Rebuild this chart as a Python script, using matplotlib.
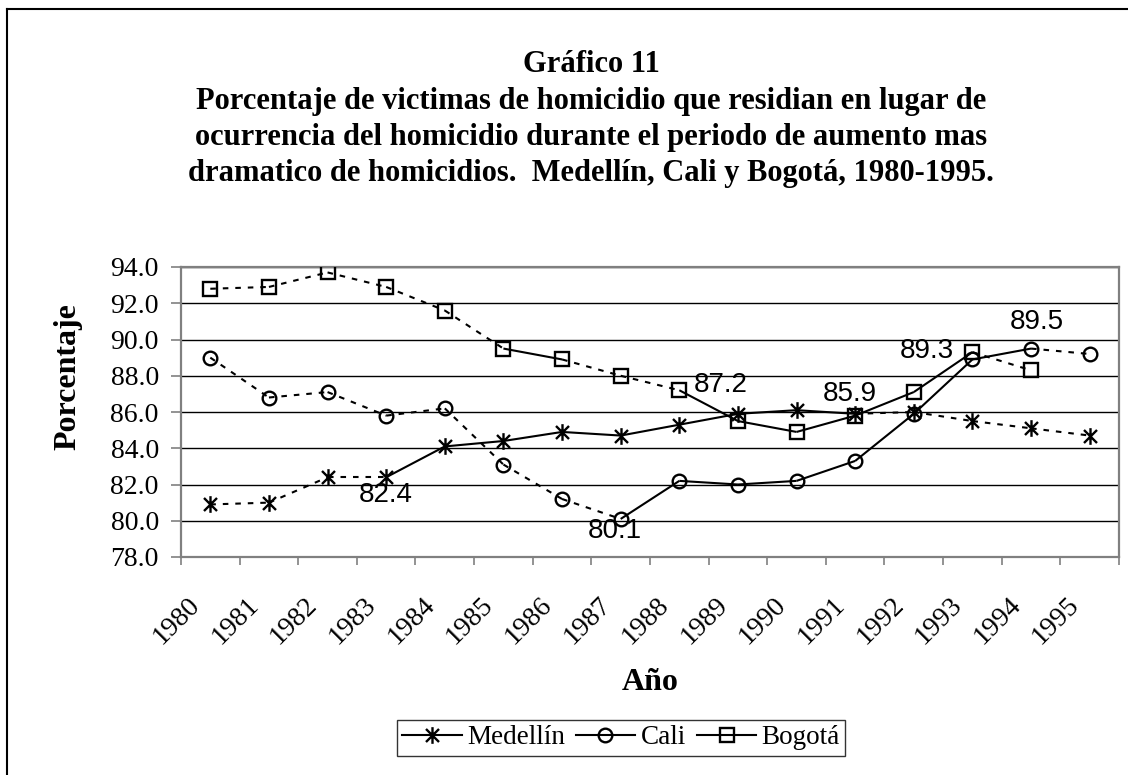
import matplotlib
matplotlib.use('Agg')
import matplotlib.pyplot as plt
import numpy as np
from matplotlib.lines import Line2D
from matplotlib.path import Path
from matplotlib.transforms import ScaledTranslation
from matplotlib.ticker import FormatStrFormatter

# ---------------- data ----------------
years = ['1980', '1981', '1982', '1983', '1984', '1985', '1986', '1987',
         '1988', '1989', '1990', '1991', '1992', '1993', '1994', '1995']
medellin = [80.9, 81.0, 82.4, 82.4, 84.1, 84.4, 84.9, 84.7,
            85.3, 85.9, 86.1, 85.9, 86.0, 85.5, 85.1, 84.7]
cali = [89.0, 86.8, 87.1, 85.8, 86.2, 83.1, 81.2, 80.1,
        82.2, 82.0, 82.2, 83.3, 85.9, 88.9, 89.5, 89.2]
bogota = [92.8, 92.9, 93.7, 92.9, 91.6, 89.5, 88.9, 88.0,
          87.2, 85.5, 84.9, 85.8, 87.1, 89.3, 88.3, np.nan]
# segment styles between consecutive years: 's' solid, 'd' dashed
medellin_seg = "dddssssssssdddd"
cali_seg = "dddddddsssssssd"
bogota_seg = "dddddsddsssssdd"
series_names = ['Medellín', 'Cali', 'Bogotá']
# data labels: (series, year index)
labels = [('Medellín', 3), ('Cali', 7), ('Bogotá', 8),
          ('Medellín', 11), ('Bogotá', 13), ('Cali', 14)]
y_ticks = [78.0, 80.0, 82.0, 84.0, 86.0, 88.0, 90.0, 92.0, 94.0]
title_lines = ['Gráfico 11',
               'Porcentaje de victimas de homicidio que residian en lugar de',
               'ocurrencia del homicidio durante el periodo de aumento mas',
               'dramatico de homicidios.  Medellín, Cali y Bogotá, 1980-1995.']

# ---------------- figure ----------------
plt.rcParams['lines.scale_dashes'] = False
W, H = 1128, 775
fig = plt.figure(figsize=(W / 100, H / 100), dpi=100)
fig.patch.set_facecolor('white')

def fx(px):
    return px / W

def fy(py):
    return 1 - py / H

ax = fig.add_axes([fx(181), fy(557), fx(1119) - fx(181), fy(267) - fy(557)])

serif = 'Liberation Serif'
sans = 'Liberation Sans'
gray = '#808080'

# asterisk marker like Excel's (vertical + X)
star = Path([(0, -1), (0, 1), (-0.78, -0.78), (0.78, 0.78), (-0.78, 0.78), (0.78, -0.78)],
            [Path.MOVETO, Path.LINETO, Path.MOVETO, Path.LINETO, Path.MOVETO, Path.LINETO])

markers = {'Medellín': (star, 12), 'Cali': ('o', 9.8), 'Bogotá': ('s', 9.8)}
data = {'Medellín': medellin, 'Cali': cali, 'Bogotá': bogota}
segs = {'Medellín': medellin_seg, 'Cali': cali_seg, 'Bogotá': bogota_seg}

x = np.arange(len(years))
lw = 1.5
dash = (0, (4, 5))
for name in series_names:
    y = np.array(data[name], dtype=float)
    for i in range(len(years) - 1):
        ls = '-' if segs[name][i] == 's' else dash
        ax.plot(x[i:i + 2], y[i:i + 2], color='black', lw=lw, linestyle=ls,
                solid_capstyle='butt', zorder=3)
    m, ms = markers[name]
    ax.plot(x, y, linestyle='none', marker=m, markersize=ms, mfc='none',
            mec='black', mew=1.7, zorder=4)

# data labels
offsets = {('Medellín', 3): (0, -13, 'center', 'center'),
           ('Cali', 7): (-4, -9, 'center', 'center'),
           ('Bogotá', 8): (30, 4, 'center', 'center'),
           ('Medellín', 11): (-4, 14, 'center', 'center'),
           ('Bogotá', 13): (-33, 1, 'center', 'center'),
           ('Cali', 14): (4, 19, 'center', 'center')}
for name, idx in labels:
    v = data[name][idx]
    dx, dy, ha, va = offsets[(name, idx)]
    ax.annotate(f'{v:.1f}', xy=(x[idx], v), xytext=(dx, dy), textcoords='offset points',
                ha=ha, va=va, fontsize=20, family=sans, zorder=5)

# axes styling
ax.set_xlim(-0.5, len(years) - 0.5)
ax.set_ylim(y_ticks[0], y_ticks[-1])
ax.set_yticks(y_ticks)
ax.yaxis.set_major_formatter(FormatStrFormatter('%.1f'))
ax.yaxis.grid(True, color='black', lw=1.0)
ax.set_axisbelow(True)
for s in ax.spines.values():
    s.set_color(gray)
    s.set_linewidth(1.6)
ax.tick_params(axis='y', which='major', length=7, width=1.2, color=gray, pad=9,
               labelsize=20, direction='out')
for t in ax.get_yticklabels():
    t.set_family(serif)

ax.set_xticks(x)
ax.set_xticklabels(years)
ax.set_xticks(np.arange(-0.5, len(years), 1.0), minor=True)
ax.tick_params(axis='x', which='major', length=0, pad=0, labelsize=20)
ax.tick_params(axis='x', which='minor', length=6, width=1.2, color=gray, direction='out')
off = ScaledTranslation(-14 / 100, -44 / 100, fig.dpi_scale_trans)
for t in ax.get_xticklabels():
    t.set_family(serif)
    t.set_rotation(45)
    t.set_rotation_mode('anchor')
    t.set_ha('right')
    t.set_va('center')
    t.set_transform(t.get_transform() + off)

# axis titles
fig.text(fx(68), fy(377), 'Porcentaje', rotation=90, ha='center', va='center',
         fontsize=23, fontweight='bold', family=serif)
fig.text(fx(650), fy(683), 'Año', ha='center', va='center',
         fontsize=23, fontweight='bold', family=serif)

# title
for k, line in enumerate(title_lines):
    fig.text(fx(591), fy(72 + 36.5 * k), line, ha='center', va='baseline',
             fontsize=22, fontweight='bold', family=serif)

# legend
handles = [Line2D([], [], color='black', lw=lw, marker=markers[n][0],
                  markersize=markers[n][1], mfc='none', mec='black', mew=1.7)
           for n in series_names]
leg = fig.legend(handles, series_names, loc='center', bbox_to_anchor=(fx(621), fy(738)),
                 ncol=3, frameon=True, fancybox=False, edgecolor='black',
                 prop={'family': serif, 'size': 19.5}, handlelength=2.2,
                 handletextpad=0.2, columnspacing=0.4, borderpad=0.2,
                 borderaxespad=0)
leg.get_frame().set_linewidth(1.0)

# outer chart frame (left and top visible)
fig.add_artist(Line2D([fx(7), fx(7)], [fy(9), 0], color='black', lw=1.5,
                      transform=fig.transFigure))
fig.add_artist(Line2D([fx(7), 1], [fy(9), fy(9)], color='black', lw=1.5,
                      transform=fig.transFigure))

fig.savefig('out.png', dpi=100, facecolor='white')
